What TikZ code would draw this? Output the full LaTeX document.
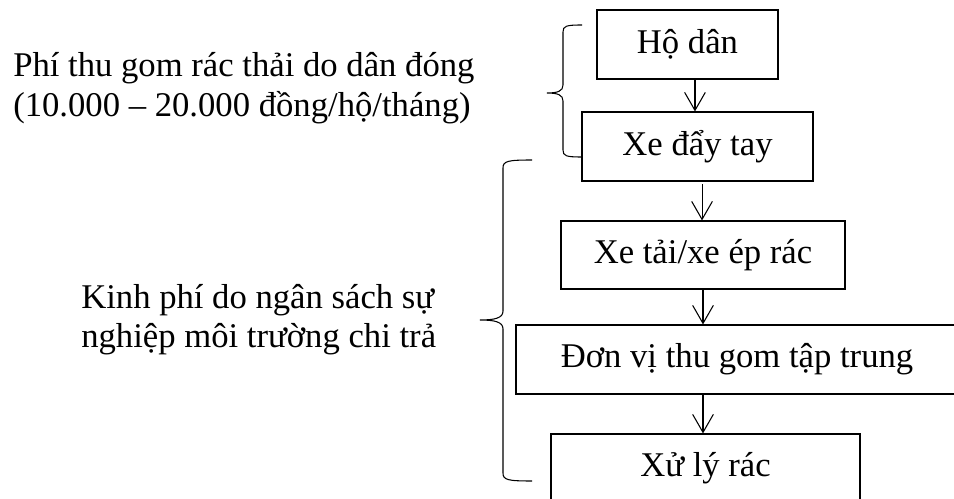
\documentclass[tikz,border=0pt]{standalone}
\usepackage{fontspec}
\setmainfont{Liberation Serif}
\usetikzlibrary{arrows.meta}
\begin{document}
\begin{tikzpicture}[x=0.75pt,y=-0.75pt,
  box/.style={draw,line width=0.8pt,inner sep=0pt,font=\fontsize{26}{30}\selectfont},
  arr/.style={draw,line width=0.8pt,-{Straight Barb[length=13.5pt,width=15.5pt,line width=0.8pt]}},
  brace/.style={draw,line width=0.8pt},
  lbl/.style={inner sep=0pt,anchor=base west,font=\fontsize{26}{30}\selectfont}]
\useasboundingbox (0,0) rectangle (954,499);
\clip (0,0) rectangle (954,499);
% boxes
\node[box,minimum width=181*0.75pt,minimum height=69*0.75pt] (hd) at (687.5,44.5) {Hộ dân};
\node[box,minimum width=231*0.75pt,minimum height=69*0.75pt] (xd) at (697.5,146.5) {Xe đẩy tay};
\node[box,minimum width=284*0.75pt,minimum height=68*0.75pt] (xt) at (703,255) {Xe tải/xe ép rác};
\node[box,minimum width=442*0.75pt,minimum height=69*0.75pt] (dv) at (737,359.5) {Đơn vị thu gom tập trung};
\node[box,minimum width=309*0.75pt,minimum height=69*0.75pt] (xl) at (705.5,468.5) {Xử lý rác};
% arrows
\draw[arr] ([xshift=5.6pt]hd.south) -- ([xshift=5.6pt]hd.south |- xd.north);
\draw[arr] ([xshift=3.4pt,yshift=-2pt]xd.south) -- ([xshift=3.4pt]xd.south |- xt.north);
\draw[arr] (xt.south) -- (xt.south |- dv.north);
\draw[arr] ([xshift=-25.5pt]dv.south) -- ([xshift=-25.5pt]dv.south |- xl.north);
% labels
\node[lbl] (t1a) at (13,76.5) {Phí thu gom rác thải do dân đóng};
\node[lbl] (t1b) at (13,116.5) {(10.000 – 20.000 đồng/hộ/tháng)};
\node[lbl] (t2a) at (81,308) {Kinh phí do ngân sách sự};
\node[lbl] (t2b) at (81,347) {nghiệp môi trường chi trả};
% small brace
\coordinate (b1t) at (582,25);
\coordinate (b1m) at (547,93);
\coordinate (b1b) at (582,157);
\draw[brace] (b1t) .. controls (566,25) and (563,26) .. (563,32)
  -- (563,85) .. controls (563,91) and (558,93) .. (b1m)
  .. controls (558,93) and (563,95) .. (563,101)
  -- (563,150) .. controls (563,156) and (566,157) .. (b1b);
% big brace
\coordinate (b2t) at (532,160);
\coordinate (b2m) at (480,320);
\coordinate (b2b) at (532,481);
\draw[brace] (b2t) .. controls (508,160) and (503,161) .. (503,168)
  -- (503,311) .. controls (503,318) and (495,320) .. (b2m)
  .. controls (495,320) and (503,322) .. (503,329)
  -- (503,473) .. controls (503,480) and (508,481) .. (b2b);
\end{tikzpicture}
\end{document}
